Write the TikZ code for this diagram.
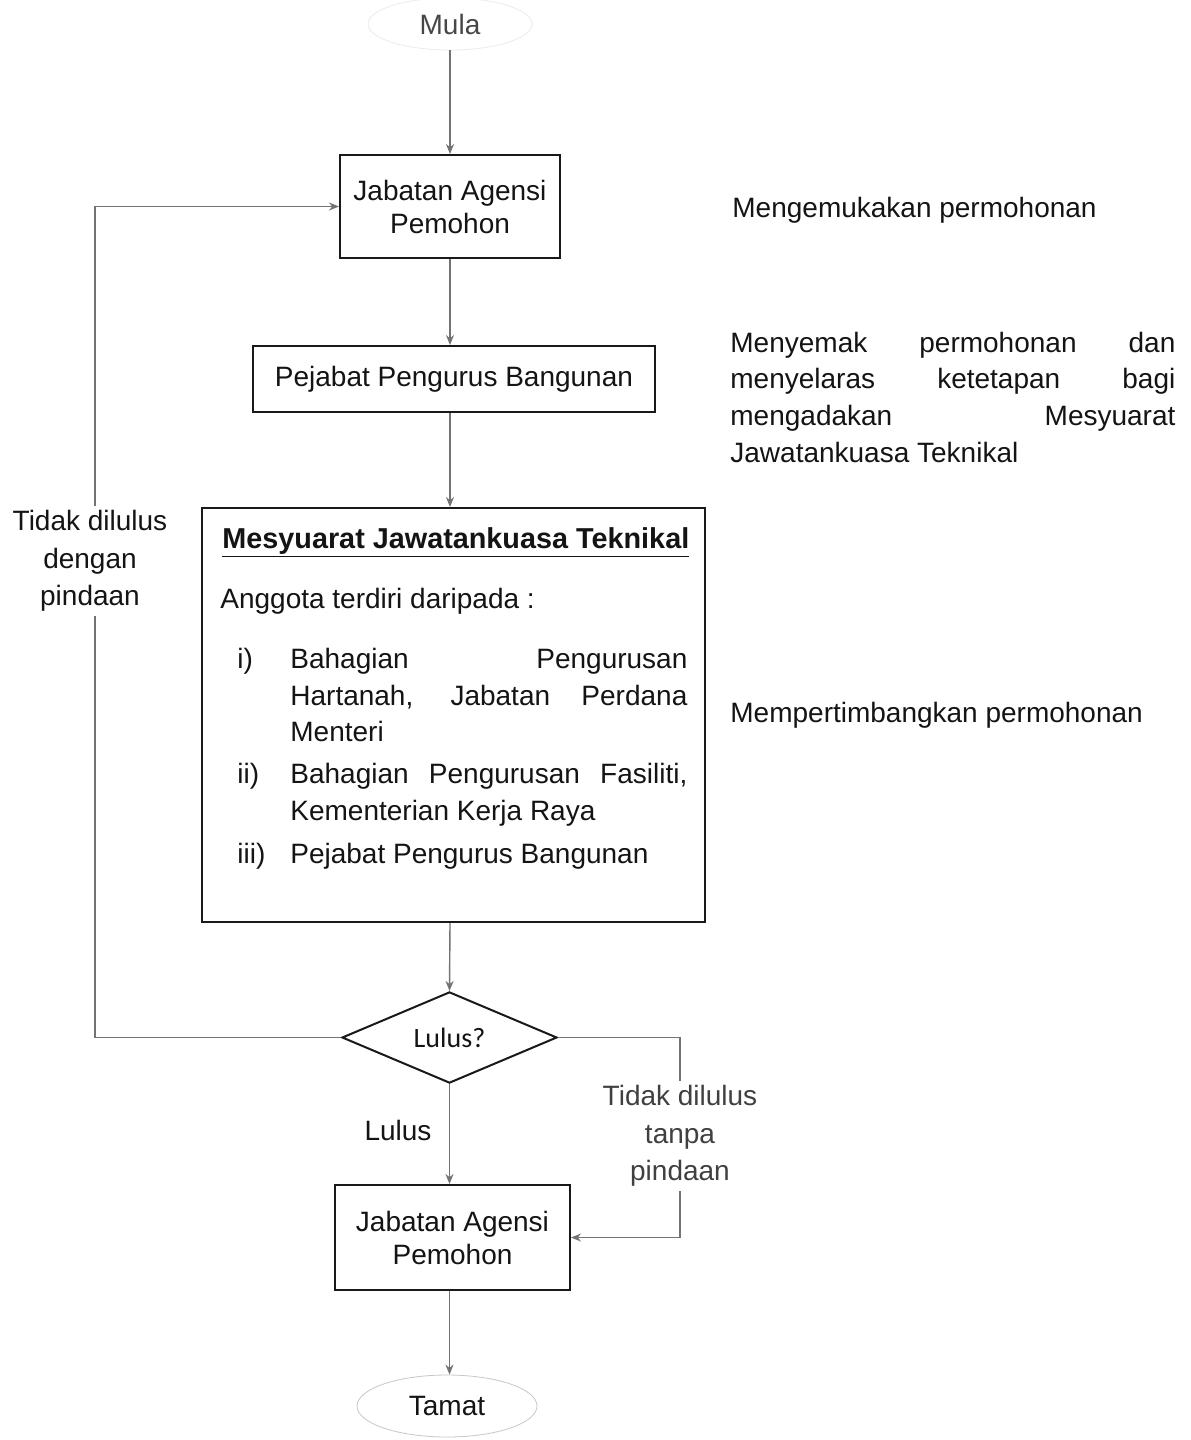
\documentclass[tikz,border=0pt]{standalone}
\usepackage{fontspec}
\setmainfont{Liberation Sans}
\newfontfamily\calib{Carlito}
\usetikzlibrary{shapes.geometric,arrows.meta}
\newcommand\jl[2]{\makebox[#1][s]{#2}}
\begin{document}
\begin{tikzpicture}[x=0.5pt,y=-0.5pt,
  box/.style={draw=black!90,line width=1pt,align=center,font=\fontsize{14}{16.5}\selectfont,text=black!92,inner sep=0pt},
  conn/.style={draw=black!55,line width=0.7pt},
  arr/.style={conn,-{Stealth[length=5pt,width=4pt]}},
  txt/.style={font=\fontsize{14}{18.5}\selectfont,text=black!92,inner sep=0pt},
  lbl/.style={txt,align=center,fill=white,inner sep=2pt,font=\fontsize{14}{18.75}\selectfont},
]
\useasboundingbox[fill=white] (0,0) rectangle (1190,1440);

% main nodes
\node[ellipse,draw=black!8,minimum width=82pt,minimum height=26pt,txt,text=black!72] (mula) at (450,24) {Mula};
\node[box,minimum width=110pt,minimum height=51.5pt] (b1) at (450,206.5) {Jabatan Agensi\\Pemohon};
\node[box,minimum width=201pt,minimum height=33pt] (b2) at (454,379) {Pejabat Pengurus Bangunan};
\node[box,minimum width=251.5pt,minimum height=207pt] (b3) at (453.5,715) {};
\node[diamond,draw=black!90,line width=1pt,minimum width=107.5pt,minimum height=45.5pt,inner sep=0pt,text=black!92,font=\calib\fontsize{14}{16}\selectfont] (dec) at (449.5,1037.5) {Lulus?};
\node[box,minimum width=117.5pt,minimum height=52.5pt] (b4) at (452.5,1237.5) {Jabatan Agensi\\Pemohon};
\node[ellipse,draw=black!22,minimum width=90pt,minimum height=31pt,txt] (tamat) at (447,1406) {Tamat};

% contents of the meeting box
\node[txt,anchor=base west,font=\bfseries\fontsize{14.4}{16}\selectfont] (t3) at (222,548) {\underline{Mesyuarat Jawatankuasa Teknikal}};
\node[txt,anchor=base west] (anggota) at (220,608) {Anggota terdiri daripada :};
\node[txt,anchor=base west] (n1) at (237,668) {i)};
\node[txt,anchor=base west] (n2) at (237,783) {ii)};
\node[txt,anchor=base west] (n3) at (237,863) {iii)};
\node[txt,anchor=base west] (i1a) at (290,668) {\jl{198.5pt}{Bahagian Pengurusan}};
\node[txt,anchor=base west] (i1b) at (290,705) {\jl{198.5pt}{Hartanah, Jabatan Perdana}};
\node[txt,anchor=base west] (i1c) at (290,741) {Menteri};
\node[txt,anchor=base west] (i2a) at (290,783) {\jl{198.5pt}{Bahagian Pengurusan Fasiliti,}};
\node[txt,anchor=base west] (i2b) at (290,820) {Kementerian Kerja Raya};
\node[txt,anchor=base west] (i3a) at (290,863) {Pejabat Pengurus Bangunan};

% right side notes
\node[txt,anchor=base west] (r1) at (732,217) {Mengemukakan permohonan};
\node[txt,anchor=base west] (r2a) at (730,352) {\jl{222.5pt}{Menyemak permohonan dan}};
\node[txt,anchor=base west] (r2b) at (730,388) {\jl{222.5pt}{menyelaras ketetapan bagi}};
\node[txt,anchor=base west] (r2c) at (730,425) {\jl{222.5pt}{mengadakan Mesyuarat}};
\node[txt,anchor=base west] (r2d) at (730,462) {Jawatankuasa Teknikal};
\node[txt,anchor=base west] (r3) at (730,722) {Mempertimbangkan permohonan};

% connectors
\draw[arr] (mula.south) -- (b1.north);
\draw[arr] (b1.south) -- (b1.south |- b2.north);
\draw[arr] (b1.south |- b2.south) -- (b1.south |- b3.north);
\draw[arr] (b1.south |- b3.south) -- (dec.north);
\draw[arr] (dec.south) -- (dec.south |- b4.north);
\draw[arr] (dec.south |- b4.south) -- (dec.south |- tamat.north);

\coordinate (lc) at (95,1037.5);
\draw[arr] (dec.west) -- (lc) |- (b1.west);
\coordinate (rc) at (680,1037.5);
\draw[arr] (dec.east) -- (rc) |- (b4.east);

% labels
\node[lbl] (lab1) at (90,561) {Tidak dilulus\\dengan\\pindaan};
\node[lbl,text=black!75] (lab2) at (680,1136) {Tidak dilulus\\tanpa\\pindaan};
\node[txt] (lab3) at (398,1130) {Lulus};
\end{tikzpicture}
\end{document}
